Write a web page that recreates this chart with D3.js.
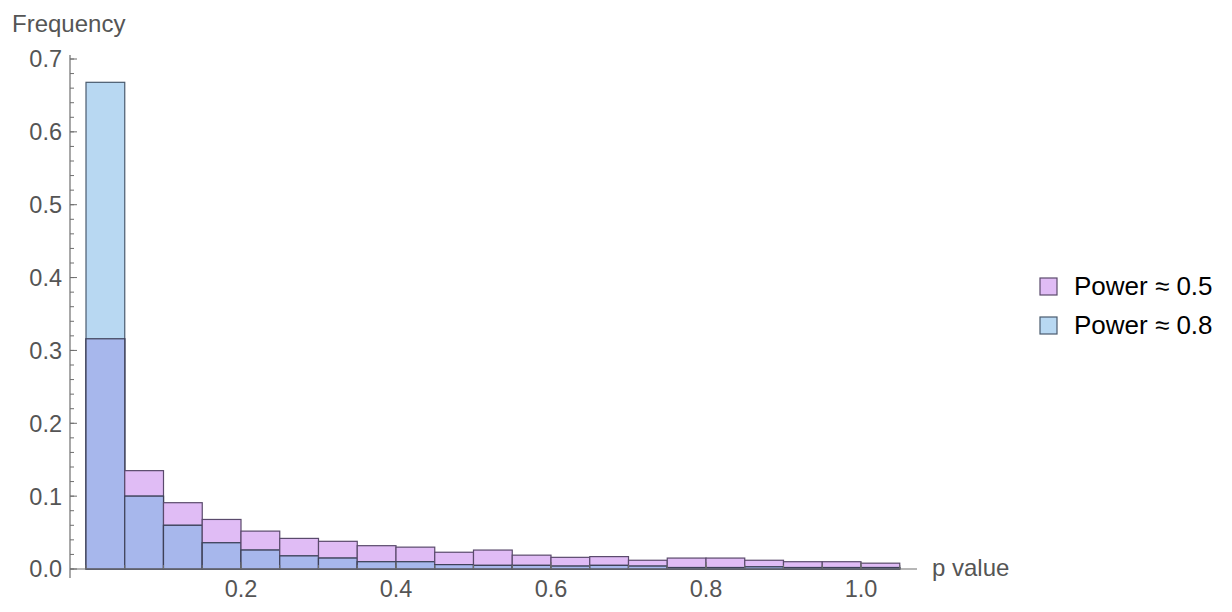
<!DOCTYPE html>
<html>
<head>
<meta charset="utf-8">
<script src="https://cdn.jsdelivr.net/npm/d3@7"></script>
<style>
  html, body { margin: 0; padding: 0; background: #fff; }
  svg { display: block; font-family: "Liberation Sans", Arial, Helvetica, sans-serif; }
</style>
</head>
<body>
<svg id="chart" width="1232" height="612"></svg>
<script>
// ---- data ----
const binEdges = [0, 0.05, 0.1, 0.15, 0.2, 0.25, 0.3, 0.35, 0.4, 0.45, 0.5, 0.55,
                  0.6, 0.65, 0.7, 0.75, 0.8, 0.85, 0.9, 0.95, 1.0, 1.05];
const seriesNames = ["Power \u2248 0.5", "Power \u2248 0.8"];
const power05 = [0.316, 0.135, 0.091, 0.068, 0.052, 0.042, 0.038, 0.032, 0.030, 0.023, 0.026,
                 0.019, 0.016, 0.017, 0.012, 0.015, 0.015, 0.012, 0.010, 0.010, 0.008];
const power08 = [0.668, 0.100, 0.060, 0.036, 0.026, 0.018, 0.015, 0.010, 0.010, 0.006, 0.005,
                 0.005, 0.004, 0.005, 0.004, 0.002, 0.002, 0.003, 0.002, 0.002, 0.002];
const xTickLabels = [0.2, 0.4, 0.6, 0.8, 1.0];
const yTickLabels = [0.0, 0.1, 0.2, 0.3, 0.4, 0.5, 0.6, 0.7];
const xLabel = "p value";
const yLabel = "Frequency";

// ---- style ----
const colPurple = "#e0bcf5", colBlue = "#b8d8f2", colOverlap = "#a7b7ec";
const strokePurple = "#5a4a6c", strokeBlue = "#4a5b6e", strokeOverlap = "#3e4058";
const axisColor = "#6e6e6e", labelColor = "#555555";

const svg = d3.select("#chart");
const x = d3.scaleLinear().domain([0, 1]).range([86, 861]);
const y = d3.scaleLinear().domain([0, 0.7]).range([569, 59]);

const bins = d3.range(power05.length).map(i => ({
  x0: binEdges[i], x1: binEdges[i + 1], a: power05[i], b: power08[i]
}));

const g = svg.append("g");
function bar(sel, val, fill, stroke) {
  sel.append("rect")
    .attr("x", d => x(d.x0))
    .attr("width", d => x(d.x1) - x(d.x0))
    .attr("y", d => y(val(d)))
    .attr("height", d => y(0) - y(val(d)))
    .attr("fill", fill)
    .attr("stroke", stroke)
    .attr("stroke-width", 1.2);
}
const gb = g.selectAll("g.bin").data(bins).join("g").attr("class", "bin");
bar(gb, d => d.a, colPurple, strokePurple);
bar(gb, d => d.b, colBlue, strokeBlue);
bar(gb, d => Math.min(d.a, d.b), colOverlap, strokeOverlap);

// ---- axes ----
const ax = svg.append("g");
ax.append("line")
  .attr("x1", 70).attr("x2", x(1.0723))
  .attr("y1", y(0)).attr("y2", y(0))
  .attr("stroke", axisColor).attr("stroke-width", 1.2);
ax.append("line")
  .attr("x1", 70).attr("x2", 70)
  .attr("y1", y(-0.0125)).attr("y2", y(0.7055))
  .attr("stroke", axisColor).attr("stroke-width", 1.2);

const yMinor = d3.range(0, 0.7001, 0.02);
ax.selectAll("line.ymin").data(yMinor).join("line")
  .attr("x1", 70).attr("x2", 74)
  .attr("y1", d => y(d)).attr("y2", d => y(d))
  .attr("stroke", axisColor).attr("stroke-width", 1);
ax.selectAll("line.ymaj").data(yTickLabels).join("line")
  .attr("x1", 70).attr("x2", 77)
  .attr("y1", d => y(d)).attr("y2", d => y(d))
  .attr("stroke", axisColor).attr("stroke-width", 1);
ax.selectAll("text.ylab").data(yTickLabels).join("text")
  .attr("x", 62).attr("y", d => y(d))
  .attr("dy", "0.36em")
  .attr("text-anchor", "end")
  .attr("fill", labelColor)
  .attr("font-size", 23.5)
  .text(d => d.toFixed(1));

const xMinor = d3.range(0, 1.0501, 0.05);
ax.selectAll("line.xmin").data(xMinor).join("line")
  .attr("x1", d => x(d)).attr("x2", d => x(d))
  .attr("y1", y(0)).attr("y2", y(0) - 4)
  .attr("stroke", axisColor).attr("stroke-width", 1);
ax.selectAll("line.xmaj").data(xTickLabels).join("line")
  .attr("x1", d => x(d)).attr("x2", d => x(d))
  .attr("y1", y(0)).attr("y2", y(0) - 7)
  .attr("stroke", axisColor).attr("stroke-width", 1);
ax.selectAll("text.xlab").data(xTickLabels).join("text")
  .attr("x", d => x(d)).attr("y", 597)
  .attr("text-anchor", "middle")
  .attr("fill", labelColor)
  .attr("font-size", 23.5)
  .text(d => d.toFixed(1));

svg.append("text").attr("x", 12).attr("y", 32)
  .attr("fill", labelColor).attr("font-size", 24).text(yLabel);
svg.append("text").attr("x", 932).attr("y", 576)
  .attr("fill", labelColor).attr("font-size", 24).text(xLabel);

// ---- legend ----
const legend = svg.append("g");
const legItems = [
  { name: seriesNames[0], fill: colPurple, stroke: strokePurple },
  { name: seriesNames[1], fill: colBlue, stroke: strokeBlue }
];
const li = legend.selectAll("g").data(legItems).join("g")
  .attr("transform", (d, i) => `translate(1040, ${278 + i * 39})`);
li.append("rect").attr("width", 17).attr("height", 17)
  .attr("fill", d => d.fill).attr("stroke", d => d.stroke).attr("stroke-width", 1.2);
li.append("text").attr("x", 34).attr("y", 17)
  .attr("fill", "#000").attr("font-size", 26).text(d => d.name);
</script>
</body>
</html>
